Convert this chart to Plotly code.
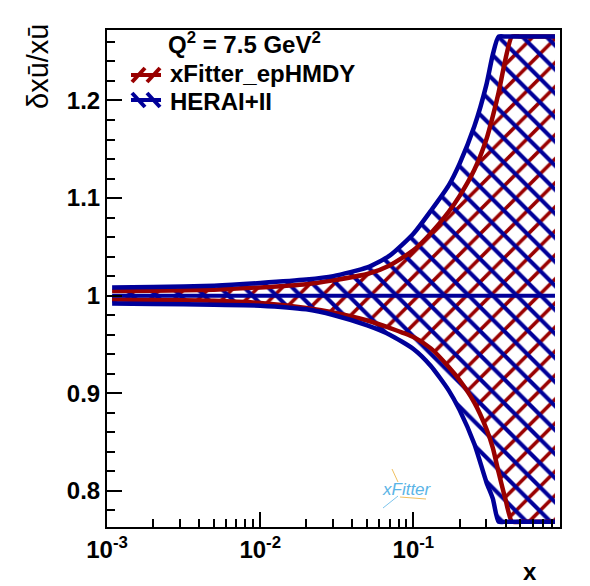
import plotly.graph_objects as go

# ---------------- data ----------------
x_vals = [0.00108, 0.002, 0.005, 0.01, 0.02, 0.03, 0.05, 0.07, 0.1, 0.13, 0.17,
          0.2, 0.25, 0.3, 0.33, 0.36, 0.4, 0.44, 0.5, 0.6, 0.7, 0.84]

herai_upper = [1.0084, 1.0088, 1.0103, 1.0130, 1.0165, 1.0200, 1.0290, 1.0410, 1.0635,
               1.0870, 1.1130, 1.1350, 1.1735, 1.2165, 1.2472, 1.2655, 1.2655, 1.2655,
               1.2655, 1.2655, 1.2655, 1.2655]
herai_lower = [0.9920, 0.9916, 0.9906, 0.9898, 0.9860, 0.9802, 0.9695, 0.9600, 0.9454,
               0.9280, 0.9030, 0.8830, 0.8480, 0.8087, 0.7921, 0.7684, 0.7684, 0.7684,
               0.7684, 0.7684, 0.7684, 0.7684]
epHMDY_upper = [1.0048, 1.0050, 1.0062, 1.0085, 1.0118, 1.0158, 1.0222, 1.0310, 1.0465,
                1.0640, 1.0860, 1.1020, 1.1290, 1.1605, 1.1840, 1.2082, 1.2430, 1.2655,
                1.2655, 1.2655, 1.2655, 1.2655]
epHMDY_lower = [0.9961, 0.9957, 0.9947, 0.9925, 0.9874, 0.9828, 0.9746, 0.9670, 0.9577,
                0.9460, 0.9270, 0.9136, 0.8904, 0.8634, 0.8440, 0.8190, 0.7907, 0.7684,
                0.7684, 0.7684, 0.7684, 0.7684]
central = [1.0] * len(x_vals)

x_tickvals = [1e-3, 1e-2, 1e-1]
x_ticktext = ["10<sup>-3</sup>", "10<sup>-2</sup>", "10<sup>-1</sup>"]
x_minorvals = [k * 10 ** e for e in (-3, -2, -1) for k in range(2, 10) if k * 10 ** e < 0.9]
y_tickvals = [0.8, 0.9, 1.0, 1.1, 1.2]
y_ticktext = ["0.8", "0.9", "1", "1.1", "1.2"]

series_names = ["xFitter_epHMDY", "HERAI+II"]
title_q2 = "Q<sup>2</sup> = 7.5 GeV<sup>2</sup>"

RED = "#990000"
BLUE = "#000099"
FONT = "Liberation Sans, Arial, sans-serif"
SMOOTH = 0.6

# ---------------- figure ----------------
W, H = 590, 586
ML, MR, MT, MB = 107, 30, 30, 59
PW, PH = W - ML - MR, H - MT - MB


def px(xp):
    return (xp - ML) / PW


def py(yp):
    return (H - MB - yp) / PH


fig = go.Figure()


def add_band(upper, lower, color, shape, solidity):
    fig.add_trace(go.Scatter(
        x=x_vals, y=lower, mode="lines",
        line=dict(width=0, color=color, shape="spline", smoothing=SMOOTH),
        hoverinfo="skip", showlegend=False))
    fig.add_trace(go.Scatter(
        x=x_vals, y=upper, mode="lines", fill="tonexty",
        line=dict(width=0, color=color, shape="spline", smoothing=SMOOTH),
        fillcolor="rgba(0,0,0,0)",
        fillpattern=dict(shape=shape, fgcolor=color, bgcolor="rgba(0,0,0,0)",
                         fgopacity=1, size=17, solidity=solidity,
                         fillmode="overlay"),
        hoverinfo="skip", showlegend=False))


add_band(epHMDY_upper, epHMDY_lower, RED, "/", 0.21)
add_band(herai_upper, herai_lower, BLUE, "\\", 0.24)

# edges
for yy in (epHMDY_upper, epHMDY_lower):
    fig.add_trace(go.Scatter(x=x_vals, y=yy, mode="lines",
                             line=dict(color=RED, width=4.5, shape="spline",
                                       smoothing=SMOOTH),
                             hoverinfo="skip", showlegend=False))
for yy in (herai_upper, herai_lower):
    fig.add_trace(go.Scatter(x=x_vals, y=yy, mode="lines",
                             line=dict(color=BLUE, width=4.5, shape="spline",
                                       smoothing=SMOOTH),
                             hoverinfo="skip", showlegend=False))
fig.add_trace(go.Scatter(x=x_vals, y=central, mode="lines",
                         line=dict(color=BLUE, width=4), hoverinfo="skip",
                         showlegend=False))

axis_common = dict(
    showline=True, linecolor="black", linewidth=2, mirror=True,
    showgrid=False, zeroline=False,
    ticks="inside", ticklen=15, tickwidth=2, tickcolor="black",
    tickfont=dict(family=FONT, size=24, color="black", weight="bold"),
)

fig.update_xaxes(type="log", range=[-3, -0.043], tickmode="array",
                 tickvals=x_tickvals, ticktext=x_ticktext,
                 minor=dict(tickmode="array", tickvals=x_minorvals, ticks="inside",
                            ticklen=8, tickwidth=2, tickcolor="black"),
                 **axis_common)
fig.update_yaxes(range=[0.763, 1.2722], tickmode="array",
                 tickvals=y_tickvals, ticktext=y_ticktext,
                 minor=dict(dtick=0.02, tick0=0.8, ticks="inside",
                            ticklen=8, tickwidth=2, tickcolor="black"),
                 **axis_common)

annotations = [
    dict(text="δxū/xū", x=px(38), y=py(67), xref="paper", yref="paper",
         textangle=-90, showarrow=False, xanchor="center", yanchor="middle",
         font=dict(family=FONT, size=29, color="black")),
    dict(text="<b>x</b>", x=px(530), y=py(571), xref="paper", yref="paper",
         showarrow=False, xanchor="center", yanchor="middle",
         font=dict(family=FONT, size=24, color="black")),
    dict(text="<b>" + title_q2 + "</b>", x=px(166), y=py(43), xref="paper", yref="paper",
         showarrow=False, xanchor="left", yanchor="middle",
         font=dict(family=FONT, size=24, color="black")),
    dict(text="<b>" + series_names[0] + "</b>", x=px(168), y=py(73), xref="paper", yref="paper",
         showarrow=False, xanchor="left", yanchor="middle",
         font=dict(family=FONT, size=24, color="black")),
    dict(text="<b>" + series_names[1] + "</b>", x=px(168), y=py(102), xref="paper", yref="paper",
         showarrow=False, xanchor="left", yanchor="middle",
         font=dict(family=FONT, size=24, color="black")),
    dict(text="<i>xFitter</i>", x=px(407), y=py(489), xref="paper", yref="paper",
         showarrow=False, xanchor="center", yanchor="middle",
         font=dict(family=FONT, size=17, color="#5ab4e6")),
]

shapes = []
# legend symbols
for (yc, col, sgn) in ((75, RED, 1), (100, BLUE, -1)):
    shapes.append(dict(type="line", xref="paper", yref="paper",
                       x0=px(131), x1=px(161), y0=py(yc), y1=py(yc),
                       line=dict(color=col, width=4)))
    for xs in (132, 147):
        shapes.append(dict(type="line", xref="paper", yref="paper",
                           x0=px(xs), x1=px(xs + 13),
                           y0=py(yc + 7 * sgn), y1=py(yc - 7 * sgn),
                           line=dict(color=col, width=4)))
# small logo decorations
shapes.append(dict(type="line", xref="paper", yref="paper",
                   x0=px(392), x1=px(398), y0=py(469), y1=py(482),
                   line=dict(color="#f0c060", width=1)))
shapes.append(dict(type="line", xref="paper", yref="paper",
                   x0=px(400), x1=px(426), y0=py(497), y1=py(499),
                   line=dict(color="#f0c060", width=1)))
shapes.append(dict(type="line", xref="paper", yref="paper",
                   x0=px(383), x1=px(398), y0=py(508), y1=py(496),
                   line=dict(color="#7cc4ec", width=1)))

fig.update_layout(
    width=W, height=H,
    margin=dict(l=ML, r=MR, t=MT, b=MB, pad=0),
    paper_bgcolor="white", plot_bgcolor="white",
    showlegend=False,
    annotations=annotations, shapes=shapes,
)

fig.write_html("out.html")
